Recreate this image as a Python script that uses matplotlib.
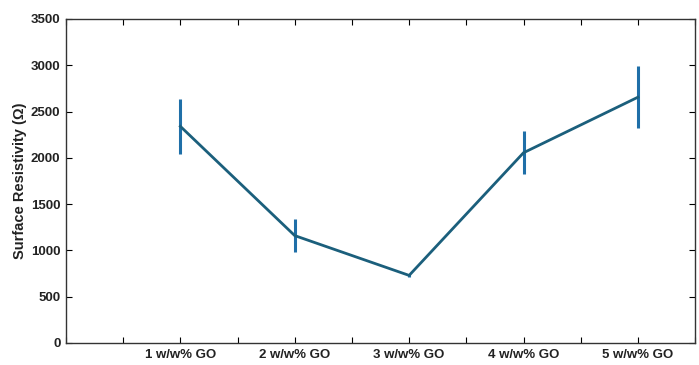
import numpy as np
import matplotlib.pyplot as plt

plt.rcParams['font.family'] = ['Liberation Sans', 'DejaVu Sans']

# data
labels = ['1 w/w% GO', '2 w/w% GO', '3 w/w% GO', '4 w/w% GO', '5 w/w% GO']
xpos = [1, 2, 3, 4, 5]
resist = [2340, 1160, 730, 2055, 2655]
err = [300, 180, 15, 230, 335]

fig = plt.figure(figsize=(6.99, 3.65), dpi=100)
ax = fig.add_axes([0.0944, 0.0603, 0.9, 0.8877])

ax.errorbar(xpos, resist, yerr=err, fmt='none', ecolor='#1f6fa8', elinewidth=2.2, capsize=0, zorder=2)
ax.plot(xpos, resist, color='#1b5f7c', lw=2.0, zorder=3)

ax.set_xlim(0, 5.5)
ax.set_ylim(0, 3500)
ax.set_xticks(np.arange(0, 5.51, 0.5))
ax.set_xticklabels(['' if t % 1 else (labels[int(t) - 1] if 1 <= t <= 5 else '')
                    for t in np.arange(0, 5.51, 0.5)])
ax.set_yticks(np.arange(0, 3501, 500))
ax.tick_params(direction='in', top=True, right=True, length=4, width=0.8,
               labelsize=9.5, pad=4, labelcolor='#222222')
for lab in ax.get_xticklabels() + ax.get_yticklabels():
    lab.set_fontweight('bold')
ax.set_ylabel('Surface Resistivity (Ω)', fontsize=10.5, fontweight='bold',
              labelpad=3, color='#222222')
for s in ax.spines.values():
    s.set_linewidth(1.0)
    s.set_color('#333333')

fig.savefig('out.png', dpi=100)
